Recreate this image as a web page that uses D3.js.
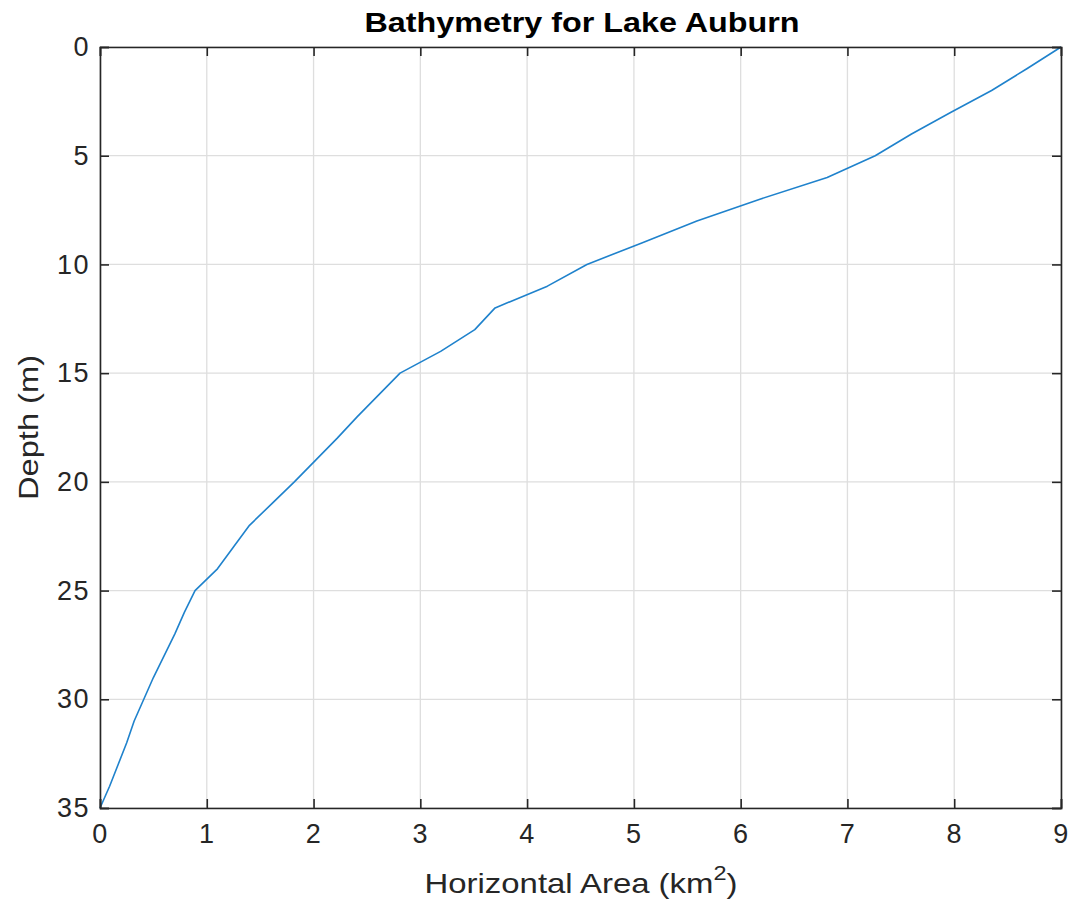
<!DOCTYPE html>
<html>
<head>
<meta charset="utf-8">
<script src="https://cdn.jsdelivr.net/npm/d3@7"></script>
<style>
  html, body { margin: 0; padding: 0; background: #fff; }
  svg { display: block; font-family: "Liberation Sans", Arial, Helvetica, sans-serif; }
</style>
</head>
<body>
<svg id="chart" width="1081" height="919"></svg>
<script>
// Data: depth (m) and horizontal area (km^2)
const depths = [0,1,2,3,4,5,6,7,8,9,10,11,12,13,14,15,16,17,18,19,20,21,22,23,24,25,26,27,28,29,30,31,32,33,34,35];
const areas  = [9.0,8.68,8.35,7.97,7.6,7.26,6.81,6.18,5.59,5.08,4.56,4.19,3.7,3.51,3.19,2.81,2.61,2.41,2.22,2.02,1.82,1.61,1.4,1.25,1.1,0.89,0.79,0.7,0.6,0.5,0.41,0.32,0.25,0.17,0.09,0.0];
const xTicks = [0,1,2,3,4,5,6,7,8,9];
const yTicks = [0,5,10,15,20,25,30,35];
const titleText = "Bathymetry for Lake Auburn";
const yLabelText = "Depth (m)";

const svg = d3.select("#chart");
const m = { left: 100, right: 1061, top: 47, bottom: 808 };
const x = d3.scaleLinear().domain([0, 9]).range([m.left, m.right]);
const y = d3.scaleLinear().domain([0, 35]).range([m.top, m.bottom]);
const axisColor = "#262626";
const tickLen = 9;
const fontFam = "'Liberation Sans', Arial, Helvetica, sans-serif";

// grid
const g = svg.append("g");
g.selectAll(".gx").data(xTicks).enter().append("line")
  .attr("x1", d => x(d)).attr("x2", d => x(d))
  .attr("y1", m.top).attr("y2", m.bottom)
  .attr("stroke", "#dedede").attr("stroke-width", 1.3);
g.selectAll(".gy").data(yTicks).enter().append("line")
  .attr("y1", d => y(d)).attr("y2", d => y(d))
  .attr("x1", m.left).attr("x2", m.right)
  .attr("stroke", "#dedede").attr("stroke-width", 1.3);

// line
const line = d3.line().x(d => x(d[0])).y(d => y(d[1]));
svg.append("path")
  .datum(areas.map((a, i) => [a, depths[i]]))
  .attr("d", line)
  .attr("fill", "none")
  .attr("stroke", "#1f82cc")
  .attr("stroke-width", 1.6)
  .attr("stroke-linejoin", "round");

// axes (ticks inward)
const bottomAxis = d3.axisBottom(x).tickValues(xTicks).tickSize(-tickLen).tickPadding(16).tickFormat(d3.format("d"));
const topAxis = d3.axisTop(x).tickValues(xTicks).tickSize(-tickLen).tickFormat("");
const leftAxis = d3.axisLeft(y).tickValues(yTicks).tickSize(-tickLen).tickPadding(10).tickFormat(d3.format("d"));
const rightAxis = d3.axisRight(y).tickValues(yTicks).tickSize(-tickLen).tickFormat("");

function style(sel) {
  sel.select(".domain").attr("stroke", axisColor).attr("stroke-width", 1.6);
  sel.selectAll(".tick line").attr("stroke", axisColor).attr("stroke-width", 1.6);
  sel.selectAll(".tick text").attr("fill", axisColor).attr("font-size", 27)
    .attr("font-family", fontFam).attr("letter-spacing", 1.5);
}
svg.append("g").attr("transform", `translate(0,${m.bottom})`).call(bottomAxis).call(style);
svg.append("g").attr("transform", `translate(0,${m.top})`).call(topAxis).call(style);
svg.append("g").attr("transform", `translate(${m.left},0)`).call(leftAxis).call(style);
svg.append("g").attr("transform", `translate(${m.right},0)`).call(rightAxis).call(style);

// title
svg.append("text").attr("x", 582).attr("y", 32)
  .attr("text-anchor", "middle").attr("font-weight", "bold").attr("font-size", 28)
  .attr("textLength", 435).attr("lengthAdjust", "spacingAndGlyphs")
  .attr("fill", "#000").text(titleText);

// x label with superscript
const xl = svg.append("text").attr("x", 581).attr("y", 893)
  .attr("text-anchor", "middle").attr("font-size", 28).attr("fill", axisColor)
  .attr("textLength", 313).attr("lengthAdjust", "spacingAndGlyphs");
xl.append("tspan").text("Horizontal Area (km");
xl.append("tspan").attr("dy", -13).attr("font-size", 20).text("2");
xl.append("tspan").attr("dy", 13).text(")");

// y label
svg.append("text")
  .attr("transform", `translate(38,${(m.top + m.bottom) / 2}) rotate(-90)`)
  .attr("text-anchor", "middle").attr("font-size", 28).attr("fill", axisColor)
  .attr("textLength", 145).attr("lengthAdjust", "spacingAndGlyphs")
  .text(yLabelText);
</script>
</body>
</html>
